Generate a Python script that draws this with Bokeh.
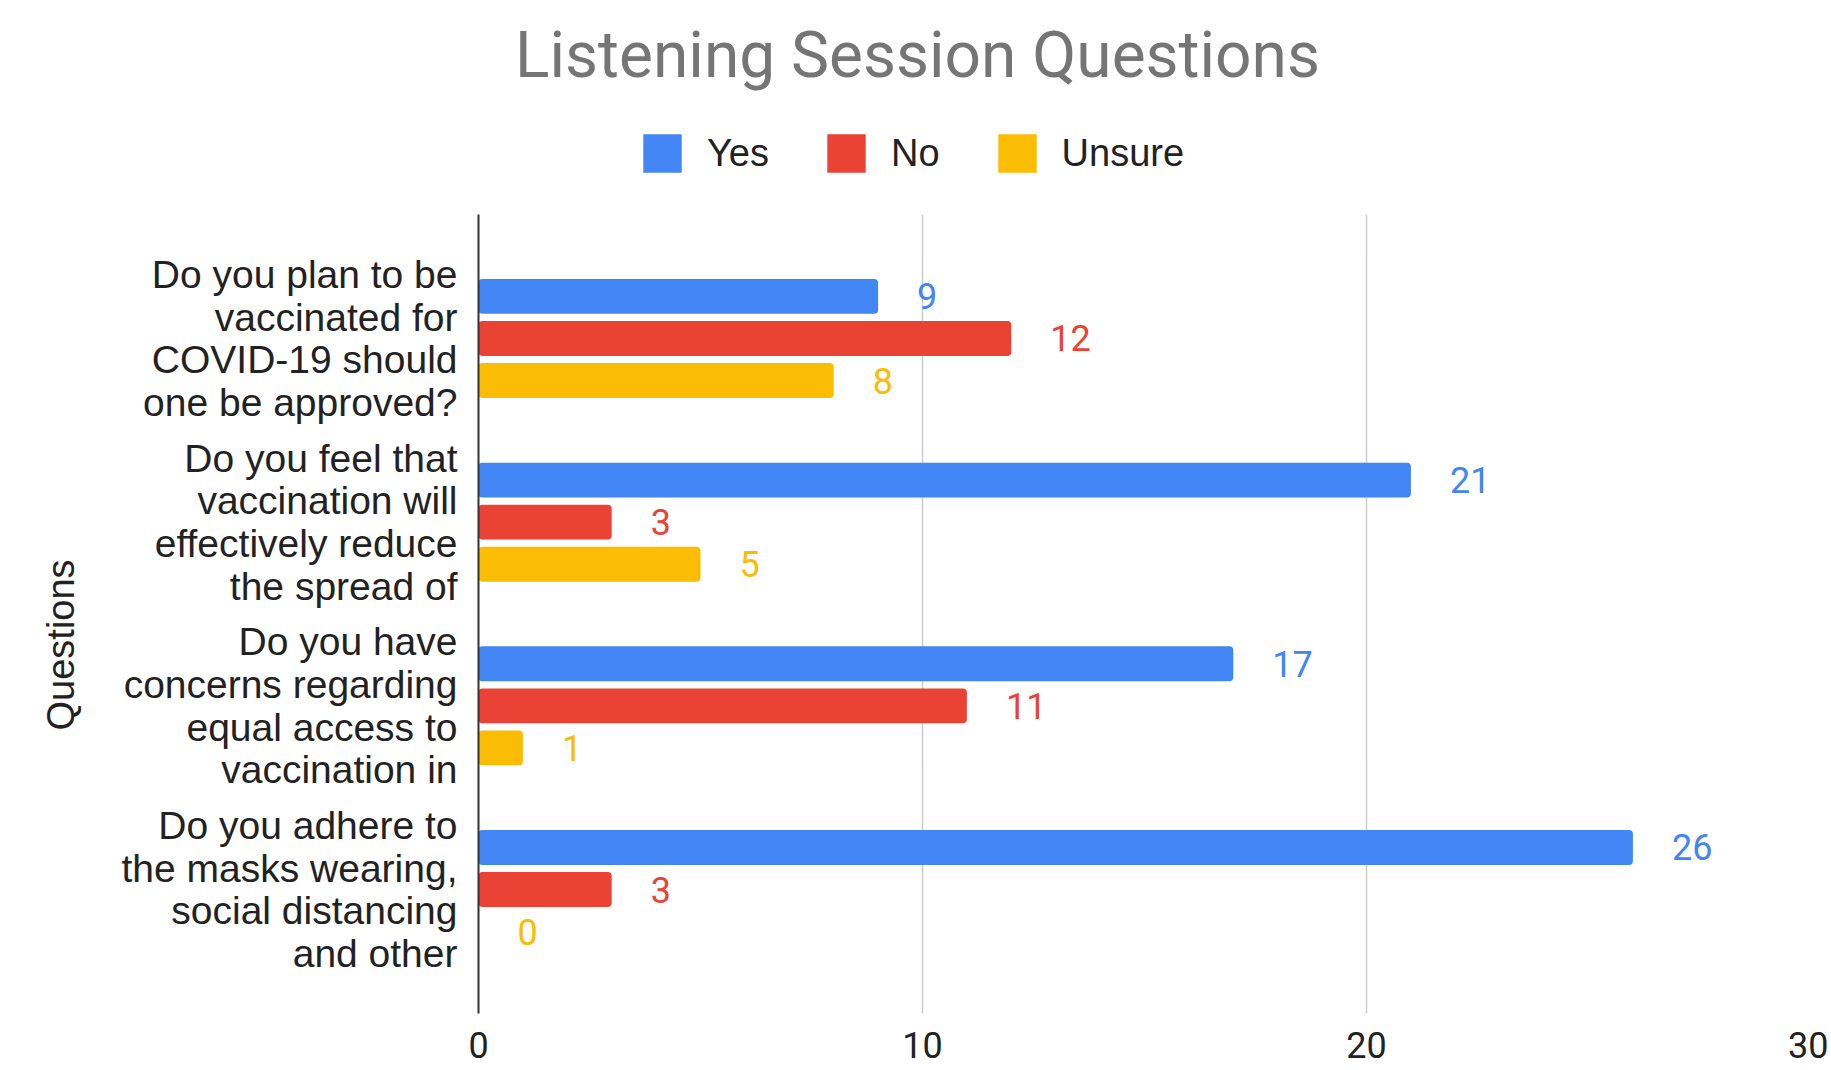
from bokeh.plotting import figure
from bokeh.layouts import column
from bokeh.models import (FactorRange, Range1d, FixedTicker, Legend, LegendItem,
                          Title, Label, ColumnDataSource)
from bokeh.transform import dodge
from bokeh.core.properties import value
from bokeh.embed import file_html
from bokeh.resources import INLINE

# ---- data ----
questions = [
    "Do you plan to be\nvaccinated for\nCOVID-19 should\none be approved?",
    "Do you feel that\nvaccination will\neffectively reduce\nthe spread of",
    "Do you have\nconcerns regarding\nequal access to\nvaccination in",
    "Do you adhere to\nthe masks wearing,\nsocial distancing\nand other",
]
series_names = ["Yes", "No", "Unsure"]
yes_vals = [9, 21, 17, 26]
no_vals = [12, 3, 11, 3]
unsure_vals = [8, 5, 1, 0]
x_ticks = [0, 10, 20, 30]
title_text = "Listening Session Questions"
y_title = "Questions"

# ---- style ----
colors = ["#4285f4", "#ea4335", "#fbbc04"]
offsets = [0.229, 0.0, -0.229]
NUM_FONT = "Roboto"
LBL_FONT = "Liberation Sans"

W = 1828
TOTAL_H = 1068
HEAD_H = 214
MAIN_H = TOTAL_H - HEAD_H

sources = [ColumnDataSource(dict(q=questions, v=vals, t=[str(v) for v in vals]))
           for vals in (yes_vals, no_vals, unsure_vals)]

# ---- header: title + legend (frame is aligned with the chart's frame) ----
head = figure(width=W, height=HEAD_H, output_backend="svg", toolbar_location=None,
              x_axis_type=None, y_axis_type=None, x_range=Range1d(-2, -1),
              y_range=FactorRange(factors=list(reversed(questions))),
              min_border=0)
head.outline_line_color = None
head.grid.grid_line_color = None
head.border_fill_color = "white"
head.background_fill_color = "white"

# legend proxies: same data, zero thickness, outside the header's view
legend_renderers = []
for src, col, off in zip(sources, colors, offsets):
    legend_renderers.append(
        head.hbar(y=dodge("q", off, range=head.y_range), left=0, right="v", height=0,
                  source=src, fill_color=col, line_color=None))

head.add_layout(Label(x=439, y=159, x_units="screen", y_units="screen",
                      text=title_text, text_align="center", text_baseline="alphabetic",
                      text_font=NUM_FONT, text_font_size="64px", text_color="#757575"))
legend = Legend(items=[LegendItem(label=n, renderers=[r])
                       for n, r in zip(series_names, legend_renderers)],
                orientation="horizontal", location=(160, 37),
                glyph_width=48, glyph_height=48, label_standoff=21, spacing=53,
                padding=0, margin=0, border_line_color=None, background_fill_alpha=0,
                label_text_font=LBL_FONT, label_text_font_size="38px",
                label_text_color="#222222")
head.add_layout(legend)

# ---- main chart ----
p = figure(width=W, height=MAIN_H, output_backend="svg", toolbar_location=None,
           x_range=Range1d(0, 30),
           y_range=FactorRange(factors=list(reversed(questions)),
                               range_padding=0.175, range_padding_units="absolute"),
           min_border_left=478, min_border_right=18,
           min_border_top=0, min_border_bottom=55)
p.outline_line_color = None
p.background_fill_color = "white"
p.border_fill_color = "white"

for src, col, off in zip(sources, colors, offsets):
    p.hbar(y=dodge("q", off, range=p.y_range), left=0, right="v", height=0.19,
           source=src, fill_color=col, line_color=None, border_radius=4)
    p.text(x="v", y=dodge("q", off, range=p.y_range), text="t", source=src,
           x_offset=39, text_align="left", text_baseline="middle",
           text_font=value(NUM_FONT), text_font_size="36px", text_color=col)

p.xaxis.ticker = FixedTicker(ticks=x_ticks)
p.xaxis.axis_line_color = None
p.xaxis.major_tick_line_color = None
p.xaxis.minor_tick_line_color = None
p.xaxis.major_label_text_font = NUM_FONT
p.xaxis.major_label_text_font_size = "36px"
p.xaxis.major_label_text_color = "#222222"
p.xaxis.major_label_standoff = 12

p.yaxis.axis_line_color = "#333333"
p.yaxis.axis_line_width = 2
p.yaxis.major_tick_line_color = None
p.yaxis.minor_tick_line_color = None
p.yaxis.major_label_text_font = LBL_FONT
p.yaxis.major_label_text_font_size = "39px"
p.yaxis.major_label_text_line_height = 0.99
p.yaxis.major_label_text_color = "#222222"
p.yaxis.major_label_standoff = 15

p.xgrid.ticker = FixedTicker(ticks=x_ticks)
p.xgrid.grid_line_color = "#cccccc"
p.xgrid.grid_line_width = 1.5
p.ygrid.grid_line_color = None

p.add_layout(Title(text=y_title, align="left", offset=283, standoff=70,
                   vertical_align="top",
                   text_font=LBL_FONT, text_font_size="38px", text_font_style="normal",
                   text_color="#222222"), "left")

open("out.html", "w").write(file_html(column(head, p, spacing=0), INLINE))
